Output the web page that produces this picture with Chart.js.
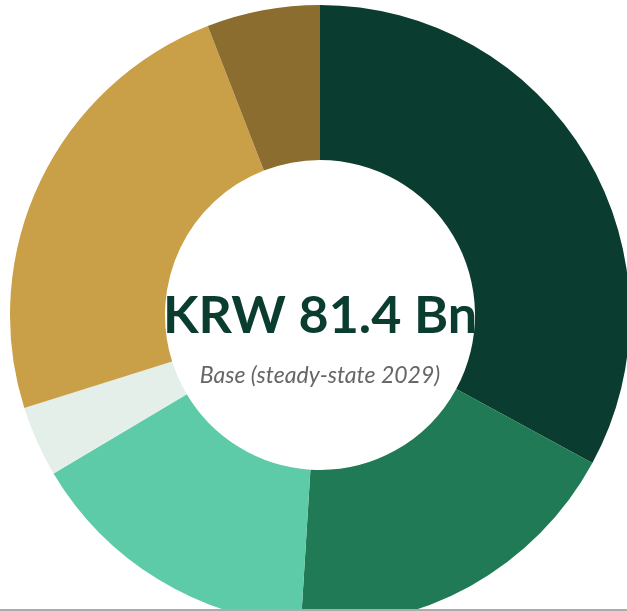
<!DOCTYPE html>
<html>
<head>
<meta charset="utf-8">
<script src="https://cdn.jsdelivr.net/npm/chart.js@4.4.1/dist/chart.umd.min.js"></script>
<style>
    html, body { margin: 0; padding: 0; background: #fff; overflow: hidden; width: 627px; height: 611px; }
    #wrap { position: absolute; left: 0; top: 0; width: 640px; height: 630px; }
    #bottomLine { position: fixed; left: 0; right: 0; top: 609px; height: 2px; background: #ababab; }
</style>
</head>
<body>
<div id="wrap"><canvas id="revenueChart"></canvas></div>
<div id="bottomLine"></div>
<script>
// Données du graphique
const segments = ['Segment 1', 'Segment 2', 'Segment 3', 'Segment 4', 'Segment 5', 'Segment 6'];
const valeurs = [26.8, 14.7, 12.6, 3.0, 19.5, 4.8];
const couleurs = ['#0a3d30', '#1f7a55', '#5ecba8', '#e4efe9', '#c9a048', '#8b6d30'];
const titreCentre = 'KRW 81.4 Bn';
const sousTitre = 'Base (steady-state 2029)';

// Texte au centre du donut
const texteCentre = {
    id: 'texteCentre',
    afterDraw(chart) {
        const ctx = chart.ctx;
        const meta = chart.getDatasetMeta(0).data[0];
        const x = meta.x, y = meta.y;
        ctx.save();
        ctx.textAlign = 'center';
        ctx.textBaseline = 'alphabetic';
        ctx.fillStyle = '#0a3d30';
        ctx.font = 'bold 52px Lato';
        ctx.fillText(titreCentre, x, y + 18);
        ctx.fillStyle = '#666666';
        ctx.font = 'italic 23px Lato';
        ctx.fillText(sousTitre, x, y + 68);
        ctx.restore();
    }
};

const ctx = document.getElementById('revenueChart').getContext('2d');
new Chart(ctx, {
    type: 'doughnut',
    data: {
        labels: segments,
        datasets: [{
            data: valeurs,
            backgroundColor: couleurs,
            borderWidth: 0
        }]
    },
    options: {
        responsive: true,
        maintainAspectRatio: false,
        animation: false,
        cutout: '50%',
        layout: { padding: { left: 10, right: 10, top: 5, bottom: 5 } },
        plugins: {
            legend: { display: false },
            tooltip: { enabled: false }
        }
    },
    plugins: [texteCentre]
});
</script>
</body>
</html>
